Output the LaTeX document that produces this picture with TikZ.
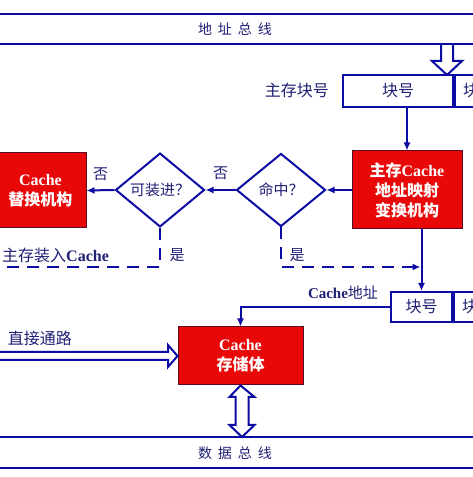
\documentclass[tikz,border=0pt]{standalone}
\usepackage{fontspec}
\setmainfont{Noto Sans CJK SC}
\newfontfamily\latinfont{Liberation Serif}
\usetikzlibrary{shapes.geometric}
\usetikzlibrary{arrows.meta}
\usetikzlibrary{positioning}

\definecolor{busblue}{RGB}{12,12,165}
\definecolor{textblue}{RGB}{32,32,118}
\definecolor{boxred}{RGB}{232,8,8}
\definecolor{boxedge}{RGB}{90,10,40}

\tikzset{
  redbox/.style={rectangle,fill=boxred,draw=boxedge,line width=1pt,text=white,align=center,
    font=\fontsize{16}{20}\selectfont\bfseries,inner sep=0pt},
  query/.style={diamond,draw=busblue,line width=2pt,fill=white,minimum width=89pt,minimum height=73pt,
    inner sep=0pt,text=textblue,font=\fontsize{15}{18}\selectfont},
  regcell/.style={rectangle,draw=busblue,line width=2pt,fill=white,text=textblue,
    font=\fontsize{16}{18}\selectfont,inner sep=0pt},
  lbl/.style={text=textblue,font=\fontsize{16}{18}\selectfont,inner sep=0pt},
  flow/.style={draw=busblue,line width=2pt,-{Latex[length=8pt,width=7pt]}},
  flowdash/.style={flow,dash pattern=on 12pt off 8pt},
  hollow/.style={draw=busblue,line width=2pt,fill=white,line join=miter},
  bus/.style={draw=busblue,line width=2.5pt},
}
\newcommand{\cachetxt}{{\latinfont\bfseries Cache}}

\begin{document}
\begin{tikzpicture}[x=1pt,y=1pt]
\clip (0,0) rectangle (473,477);
\fill[white] (0,0) rectangle (473,477);

% address bus
\draw[hollow] (441,433) -- (441,416) -- (432,416) -- (447,402) -- (462,416) -- (453,416) -- (453,433);
\draw[bus] (-5,463) -- (480,463);
\draw[bus] (-5,433) -- (480,433);
\node[lbl,font=\fontsize{14}{16}\selectfont] (abus) at (235,448) {地\hspace{6pt}址\hspace{6pt}总\hspace{6pt}线};

% main memory address
\node[regcell,minimum width=110pt,minimum height=32pt] (blk) at (398,386) {块号};
\node[regcell,anchor=west,minimum height=32pt,text width=44pt,align=left,inner xsep=8pt] (blkrest) at (blk.east) {块};
\node[lbl,anchor=east] (blklbl) at (329,387) {主存块号};

% mapping unit and decisions
\node[redbox,minimum width=110pt,minimum height=78pt] (map) at (407,287) {主存\cachetxt\\地址映射\\变换机构};
\node[query] (hit) at (281,287) {命中？};
\node[query] (fit) at (160,287) {可装进？};
\node[redbox,minimum width=91pt,minimum height=75pt] (repl) at (40.5,286.5) {\cachetxt\\替换机构};

\draw[flow] (blk.south -| map.north) -- (map.north);
\draw[flow] (map.west) -- (hit.east);
\draw[flow] (hit.west) -- (fit.east) node[lbl,midway,above=9pt,font=\fontsize{15}{16}\selectfont] (no1) {否};
\draw[flow] (fit.west) -- (repl.east) node[lbl,midway,above=9pt,font=\fontsize{15}{16}\selectfont] (no2) {否};

% cache address
\node[regcell,minimum width=61pt,minimum height=30pt] (cblk) at (421.5,170) {块号};
\node[regcell,anchor=west,minimum height=30pt,text width=44pt,align=left,inner xsep=8pt] (cblkrest) at (cblk.east) {块};
\node[lbl,font=\fontsize{15}{16}\selectfont] (cblklbl) at (343,184) {\cachetxt 地址};

\draw[flow] (map.south -| cblk.north) -- (cblk.north);
\coordinate (loadend) at (-5,210);
\draw[flowdash,-] (fit.south) |- (loadend);
\draw[flowdash,shorten >=1pt] (hit.south) |- (cblk.north |- loadend);
\node[lbl,font=\fontsize{15}{16}\selectfont] (yes1) at (177,222) {是};
\node[lbl,font=\fontsize{15}{16}\selectfont] (yes2) at (297,222) {是};
\node[lbl,anchor=west] (loadlbl) at (2,222) {主存装入\cachetxt};

% cache storage
\node[redbox,minimum width=125pt,minimum height=58pt] (store) at (240.5,121) {\cachetxt\\存储体};
\draw[flow] (cblk.west) -| (store.north);
\draw[hollow] (-5,125) -- (168,125) -- (168,132) -- (store.west) -- (168,110) -- (168,117) -- (-5,117);
\node[lbl] (direct) at (40,139) {直接通路};

% data bus
\draw[hollow] (store.south) -- (254.5,80) -- (248.5,80) -- (248.5,52) -- (254.5,52) -- (242,40)
  -- (229.5,52) -- (235.5,52) -- (235.5,80) -- (229.5,80) -- cycle;
\draw[bus] (-5,40) -- (480,40);
\draw[bus] (-5,9) -- (480,9);
\node[lbl,font=\fontsize{14}{16}\selectfont] (dbus) at (235,24) {数\hspace{6pt}据\hspace{6pt}总\hspace{6pt}线};

\end{tikzpicture}
\end{document}
